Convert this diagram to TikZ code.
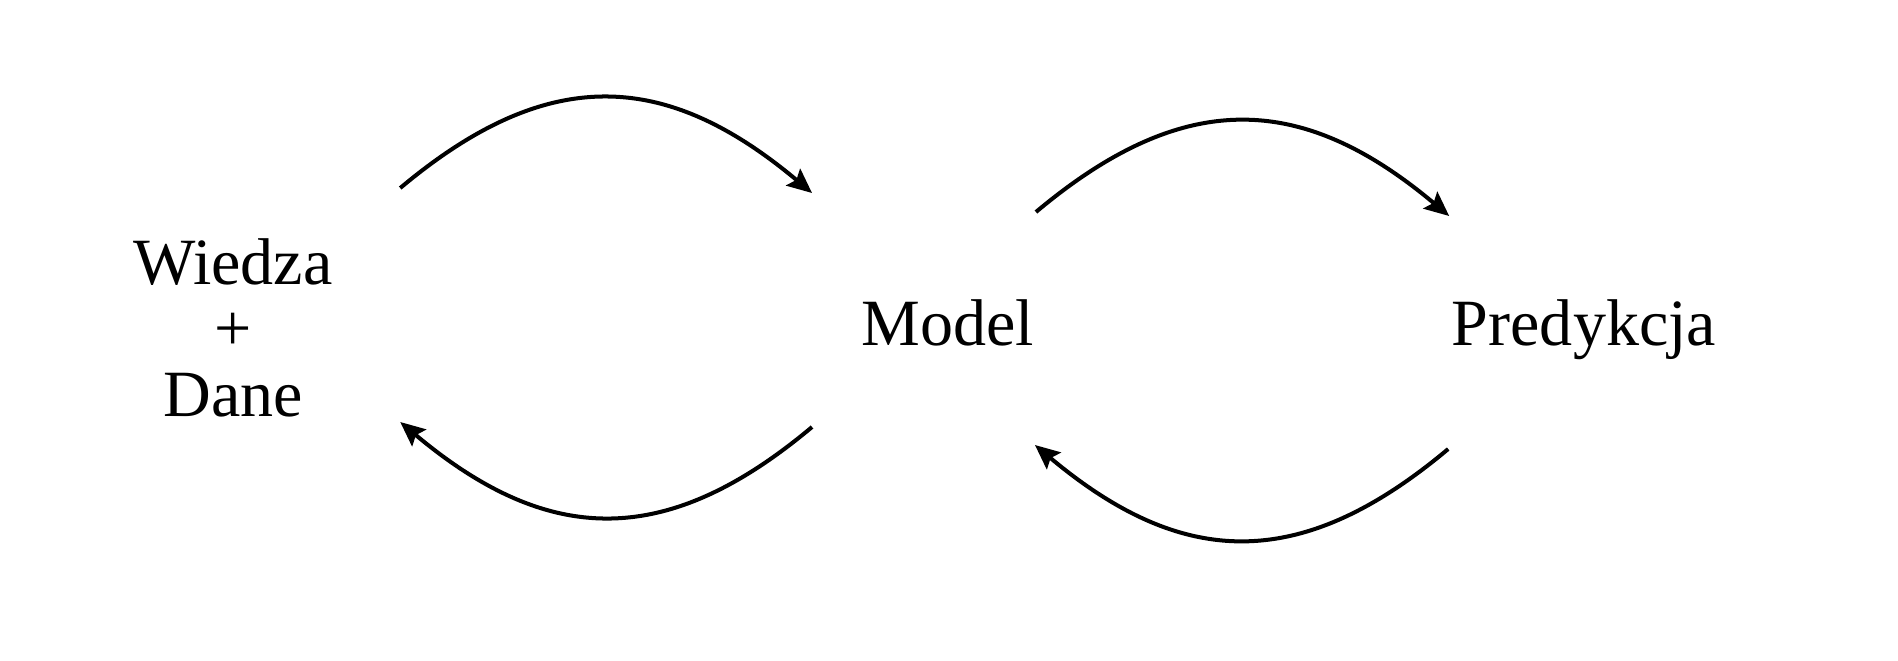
\documentclass[tikz,border=0pt]{standalone}
\usepackage{fontspec}
\setmainfont{Liberation Serif}
\usetikzlibrary{arrows.meta}
\begin{document}
\begin{tikzpicture}[lbl/.style={inner sep=0pt,align=center,font=\fontsize{18.8}{18.8}\selectfont},
  loopar/.style={-{Stealth[length=7pt,width=6.2pt,inset=1.2pt]},line width=1.14pt,looseness=1.19}]
\useasboundingbox (0,0) rectangle (18.98,-6.60);
\path (2.33,-3.28) node[lbl] (wd) {Wiedza\\+\\Dane} ++ (7.15,-0.17) node[lbl,anchor=base] (m) {Model}
        ++ (6.36,0) node[lbl,anchor=base] (p) {Predykcja};
\draw[loopar] ([shift={(0.67,1.40)}]wd.east) to[out=40,in=140] ([shift={(-0.49,1.52)}]m.base west);
\draw[loopar] ([shift={(0.01,1.33)}]m.base east) to[out=40,in=140] ([shift={(-0.02,1.29)}]p.base west);
\draw[loopar] ([shift={(-0.03,-1.04)}]p.base west) to[out=-140,in=-40] ([shift={(0,-1.00)}]m.base east);
\draw[loopar] ([shift={(-0.49,-0.82)}]m.base west) to[out=-140,in=-40] ([shift={(0.67,-0.94)}]wd.east);
\end{tikzpicture}
\end{document}
